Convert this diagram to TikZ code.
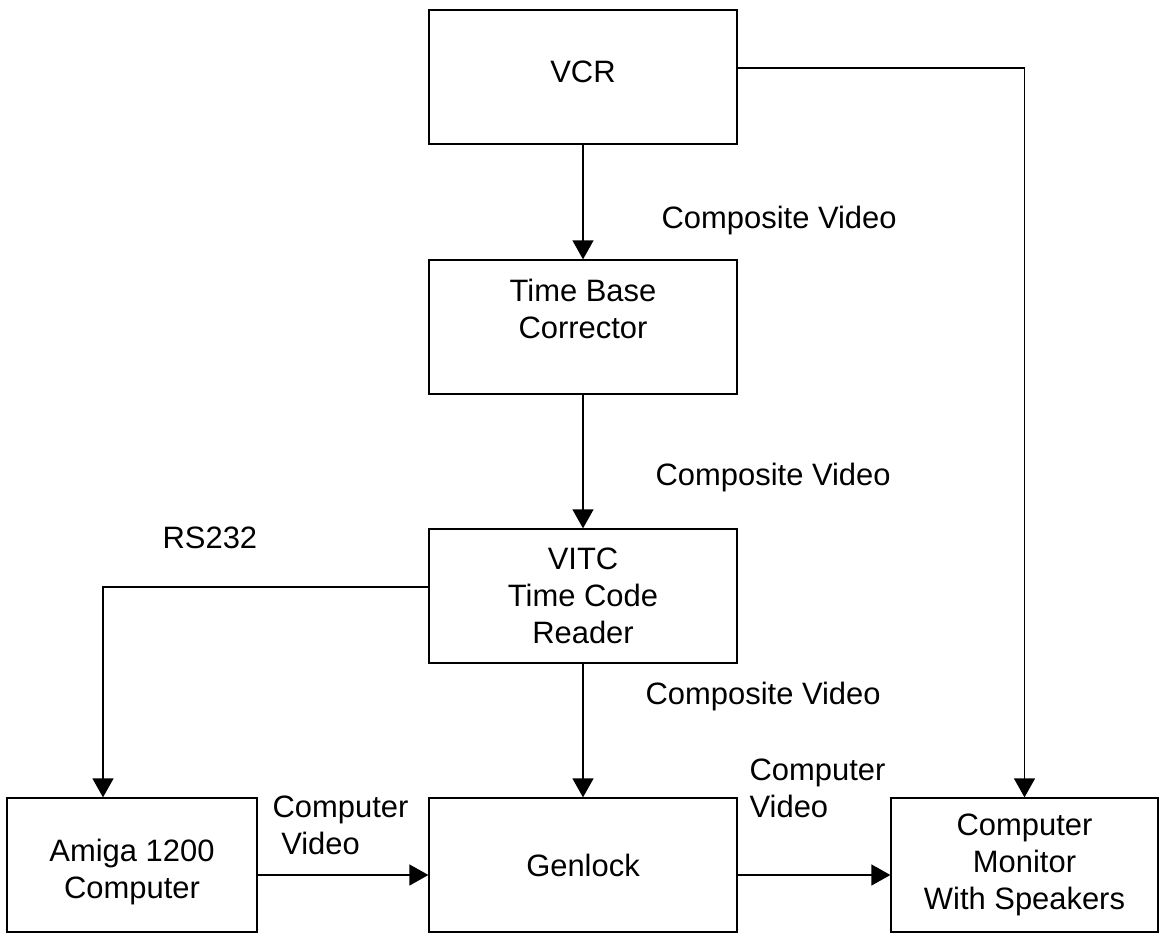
\documentclass[tikz,border=0pt]{standalone}
\usepackage{fontspec}
\setmainfont{Liberation Sans}
\usetikzlibrary{arrows.meta}
\begin{document}
\begin{tikzpicture}[x=0.02cm,y=-0.02cm,line width=0.75pt,>={Triangle[length=0.38cm,width=0.42cm]},font=\fontsize{17.6}{21}\selectfont]
    \tikzset{unit/.style={draw,align=center,minimum width=6.16cm,minimum height=2.68cm,inner sep=0pt},
             small unit/.style={unit,minimum width=5cm},
             wire label/.style={anchor=west,inner sep=0pt,align=left}}
    \useasboundingbox (0,0) rectangle (1159,942);
    % equipment
    \node[unit] (vcr) at (583,77) {\raisebox{3pt}[\height][\depth]{VCR}};
    \node[unit] (tbc) at (583,327) {Time Base\\Corrector\\\mbox{}};
    \node[unit] (vitc) at (583,596) {VITC\\Time Code\\Reader};
    \node[unit] (genlock) at (583,865) {Genlock};
    \node[small unit] (amiga) at (132,865) {\mbox{}\\Amiga 1200\\Computer};
    \node[small unit,minimum width=5.34cm] (monitor) at (1024.5,865) {Computer\\Monitor\\With Speakers};
    % signal paths
    \draw[->] (vcr) -- (tbc);
    \draw[->] (tbc) -- (vitc);
    \draw[->] (vitc) -- (genlock);
    \draw[->] ([yshift=0.18cm]vcr.east) -| (monitor);
    \draw[->] ([yshift=0.18cm]vitc.west) -| ([xshift=-0.58cm]amiga.north);
    \draw[->] ([yshift=-0.2cm]amiga.east) -- ([yshift=-0.2cm]genlock.west);
    \draw[->] ([yshift=-0.2cm]genlock.east) -- ([yshift=-0.2cm]monitor.west);
    % labels
    \node[wire label] (cv1) at (661,221) {Composite Video};
    \node[wire label] (cv2) at (655,478) {Composite Video};
    \node[wire label] (cv3) at (645,696) {Composite Video};
    \node[wire label] (rs) at (162,538) {RS232};
    \node[wire label] (cvid1) at (272,825) {Computer\\\ Video};
    \node[wire label] (cvid2) at (749,788) {Computer\\Video};
\end{tikzpicture}
\end{document}
